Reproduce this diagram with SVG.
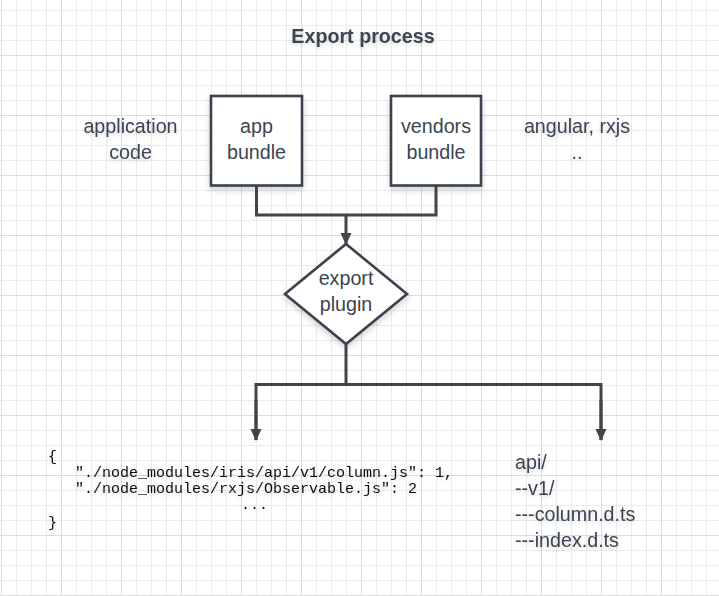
<svg xmlns="http://www.w3.org/2000/svg" width="719" height="596" viewBox="0 0 719 596">
<defs>
<style>
.t{font-family:"Liberation Sans",Arial,sans-serif;font-size:19.7px;fill:#3a4452;}
.c{text-anchor:middle;}
.title{font-weight:bold;}
.mono{font-family:"Liberation Mono","Courier New",monospace;font-size:15px;fill:#111;}
.node{fill:#fff;stroke:#3a434d;stroke-width:2.6;filter:url(#sh);}
.conn{fill:none;stroke:#444;stroke-width:3;}
.ts{filter:url(#tsh);}
</style>
<pattern id="grid" width="60" height="60" patternUnits="userSpaceOnUse" x="1" y="-5">
<path d="M15.5 0V60M30.5 0V60M45.5 0V60M0 15.5H60M0 30.5H60M0 45.5H60" stroke="#ebebeb" stroke-width="1" fill="none"/>
<path d="M0.5 0V60M0 0.5H60" stroke="#dcdcdc" stroke-width="1" fill="none"/>
</pattern>
<filter id="sh" x="-20%" y="-20%" width="140%" height="150%">
<feDropShadow dx="0" dy="3" stdDeviation="3" flood-color="#000" flood-opacity="0.18"/>
</filter>
<filter id="tsh" x="-10%" y="-30%" width="120%" height="180%">
<feDropShadow dx="0" dy="2" stdDeviation="2" flood-color="#000" flood-opacity="0.15"/>
</filter>
<marker id="arr" viewBox="0 0 12 12" refX="11" refY="6" markerWidth="12" markerHeight="12" markerUnits="userSpaceOnUse" orient="auto">
<path d="M0 0.5L12 6L0 11.5Z" fill="#444"/>
</marker>
</defs>
<rect width="719" height="596" fill="#fff"/>
<rect width="719" height="596" fill="url(#grid)"/>

<g id="title" class="ts"><text class="t c title" x="363" y="43">Export process</text></g>

<g id="application-code" class="ts">
<text class="t c" x="130.5" y="132.5">application</text>
<text class="t c" x="130.5" y="158.5">code</text>
</g>

<g id="app-bundle">
<rect class="node" x="211" y="96" width="91" height="89.5"/>
<text class="t c" x="256.5" y="132.5">app</text>
<text class="t c" x="256.5" y="158.5">bundle</text>
</g>

<g id="vendors-bundle">
<rect class="node" x="391" y="96" width="90" height="89.5"/>
<text class="t c" x="436" y="132.5">vendors</text>
<text class="t c" x="436" y="158.5">bundle</text>
</g>

<g id="angular-rxjs" class="ts">
<text class="t c" x="577" y="132.5">angular, rxjs</text>
<text class="t c" x="577" y="158.5">..</text>
</g>

<g id="export-plugin">
<polygon class="node" points="346,244 407,294 346,344 285,294"/>
<text class="t c" x="346" y="285">export</text>
<text class="t c" x="346" y="311">plugin</text>
</g>

<g id="connectors">
<path class="conn" d="M256.5 186V215H436V186"/>
<path class="conn" d="M346 215V244" marker-end="url(#arr)"/>
<path class="conn" d="M346 344V384.5"/>
<path class="conn" d="M256 440V384.5H601V440" />
<path class="conn" d="M256 400V440" marker-end="url(#arr)"/>
<path class="conn" d="M601 400V440" marker-end="url(#arr)"/>
</g>

<g id="module-ids" class="ts">
<text class="mono" x="48" y="461">{</text>
<text class="mono" x="75" y="477">"./node_modules/iris/api/v1/column.js": 1,</text>
<text class="mono" x="75" y="493">"./node_modules/rxjs/Observable.js": 2</text>
<text class="mono" x="241" y="509">...</text>
<text class="mono" x="48" y="527">}</text>
</g>

<g id="typings" class="ts">
<text class="t" x="515" y="468.5">api/</text>
<text class="t" x="515" y="494.5">--v1/</text>
<text class="t" x="515" y="520.5">---column.d.ts</text>
<text class="t" x="515" y="546.5">---index.d.ts</text>
</g>
</svg>
